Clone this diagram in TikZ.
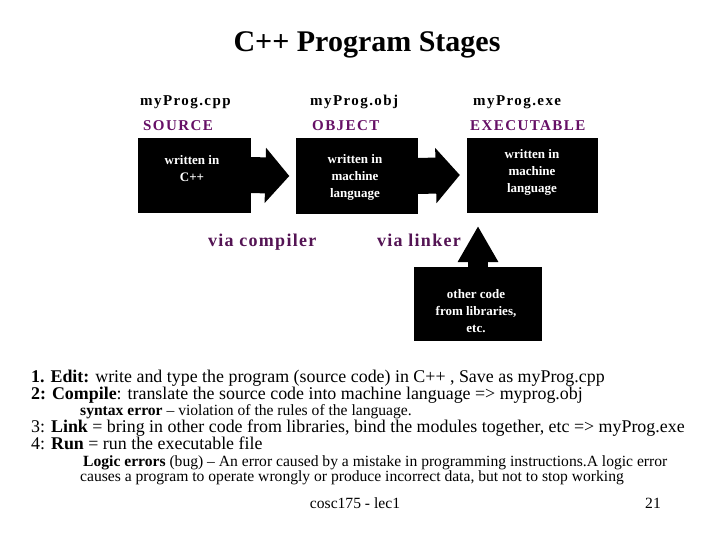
\documentclass[tikz,border=0pt]{standalone}
\usepackage{fontspec}
\setmainfont{Liberation Serif}
\usetikzlibrary{arrows.meta}
\definecolor{lblpurple}{RGB}{102,16,102}
\definecolor{viapurple}{RGB}{84,20,84}
\tikzset{
  blk/.style={fill=black, draw=black, inner sep=0pt},
  boxtext/.style={text=white, font=\fontsize{13}{17}\selectfont\bfseries, align=center, inner sep=0pt},
  fname/.style={anchor=base west, inner sep=0pt, font=\fontsize{15}{18}\selectfont\bfseries\addfontfeature{LetterSpace=9.5}},
  kind/.style={anchor=base west, inner sep=0pt, text=lblpurple, font=\fontsize{15}{18}\selectfont\bfseries\addfontfeature{LetterSpace=9.5}},
  via/.style={anchor=base west, inner sep=0pt, text=viapurple, font=\fontsize{18}{22}\selectfont\bfseries\addfontfeature{LetterSpace=7}},
  bigarrow/.style={line width=36pt, -{Triangle[length=24pt, width=54pt]}},
  uparrow/.style={line width=20pt, -{Triangle[length=36pt, width=38pt]}},
  body/.style={anchor=base west, inner sep=0pt, font=\fontsize{17.9}{20}\selectfont},
  small/.style={anchor=base west, inner sep=0pt, font=\fontsize{15.6}{18}\selectfont},
}
\begin{document}
\begin{tikzpicture}[x=1pt,y=-1pt]
\useasboundingbox[fill=white] (0,0) rectangle (720,540);
% title
\node[anchor=base, inner sep=0pt, font=\fontsize{30}{33}\selectfont\bfseries] (title) at (367,52) {C++ Program Stages};
% file names and kinds
\node[fname] (f1) at (140,106) {myProg.cpp};
\node[fname] (f2) at (310,106) {myProg.obj};
\node[fname] (f3) at (473,106) {myProg.exe};
\node[kind] (k1) at (143,131) {SOURCE};
\node[kind] (k2) at (312,131) {OBJECT};
\node[kind] (k3) at (470,131) {EXECUTABLE};
% boxes
\node[blk, minimum width=112pt, minimum height=74pt] (b1) at (194,175) {};
\node[blk, minimum width=121pt, minimum height=75pt] (b2) at (357,176) {};
\node[blk, minimum width=130pt, minimum height=74pt] (b3) at (532,175) {};
\node[blk, minimum width=127pt, minimum height=73pt] (b4) at (478,304) {};
% box texts
\node[boxtext] (t1) at (192,169) {written in\\C++};
\node[boxtext] (t2) at (355,177) {written in\\machine\\language};
\node[boxtext] (t3) at (532,172) {written in\\machine\\language};
\node[boxtext] (t4) at (476,311) {other code\\from libraries,\\etc.};
% arrows
\coordinate (e1) at ([xshift=-7pt]b2.west);
\coordinate (e2) at ([xshift=-7pt]b3.west);
\coordinate (e3) at (478,226);
\draw[bigarrow] (b1.east) -- (e1);
\draw[bigarrow] (b2.east) -- (e2);
\draw[uparrow] (b4.north) -- (e3);
% via labels
\node[via] (v1) at (208,246) {via compiler};
\node[via] (v2) at (377,246) {via linker};
% body text
\node[body] (l1) at (31,382) {\textbf{1. Edit:} write and type the program (source code) in C++ , Save as myProg.cpp};
\node[body] (l2) at (31,399) {\textbf{2: Compile}: translate the source code into machine language => myprog.obj};
\node[small] (l3) at (80,415) {\textbf{syntax error} -- violation of the rules of the language.};
\node[body] (l4) at (31,432) {3: \textbf{Link} = bring in other code from libraries, bind the modules together, etc => myProg.exe};
\node[body] (l5) at (31,449) {4: \textbf{Run} = run the executable file};
\node[small] (l6) at (83,466) {\textbf{Logic errors} (bug) -- An error caused by a mistake in programming instructions.A logic error};
\node[small] (l7) at (80,481) {causes a program to operate wrongly or produce incorrect data, but not to stop working};
\node[small, anchor=base] (foot) at (355,508) {cosc175 - lec1};
\node[small] (num) at (645,508) {21};
\end{tikzpicture}
\end{document}
